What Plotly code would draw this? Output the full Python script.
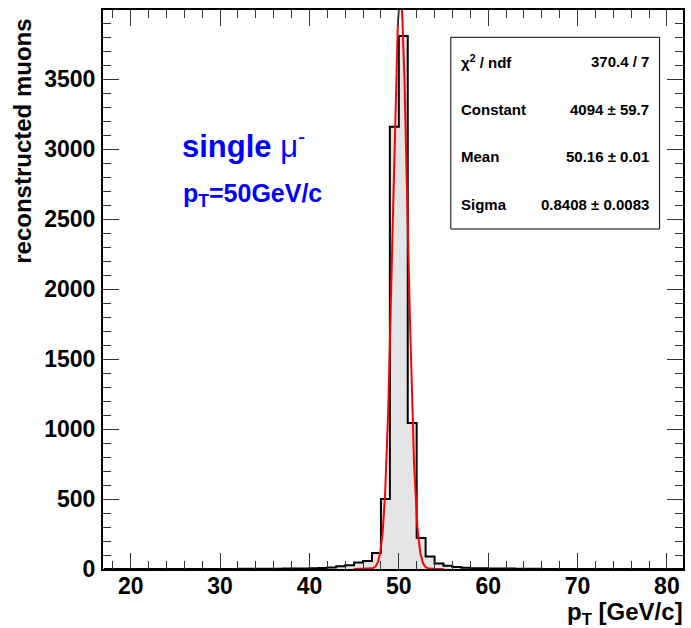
import numpy as np
import plotly.graph_objects as go

# ---- data -------------------------------------------------------------
bin_low_edges = list(range(17, 82))          # 1 GeV/c bins, 17..82
counts = [0] * 13 + [                        # 17..29
    0, 0, 1, 1, 1, 2, 2, 3, 3, 4,            # 30..39
    5, 7, 10, 19, 26, 47, 57, 115, 500, 3160,  # 40..49
    3809, 1043, 221, 90, 40, 24, 14, 9, 6, 5,  # 50..59
    4, 3, 3, 2, 1, 1,                        # 60..65
] + [0] * 16                                 # 66..81
bin_width = 1.0

fit_constant = 4094.0
fit_mean = 50.16
fit_sigma = 0.8408
fit_range = (45.0, 55.0)

stats_labels = ["χ<sup>2</sup> / ndf", "Constant", "Mean", "Sigma"]
stats_values = ["370.4 / 7", "4094 ± 59.7", "50.16 ± 0.01", "0.8408 ± 0.0083"]

x_range = [16.9, 81.8]
y_range = [0, 3995]

# ---- figure -----------------------------------------------------------
FONT = "Liberation Sans, Arial, Helvetica, sans-serif"
W, H = 691, 628
ML, MR, MT, MB = 103, 6, 10, 59
PW, PH = W - ML - MR, H - MT - MB


def px(xp):
    return (xp - ML) / PW


def py(yp):
    return (H - MB - yp) / PH


step_x = bin_low_edges + [bin_low_edges[-1] + bin_width]
step_y = counts + [counts[-1]]

fig = go.Figure()
fig.add_trace(go.Scatter(
    x=step_x, y=step_y, mode="lines", line_shape="hv",
    line=dict(color="black", width=2),
    fill="tozeroy", fillcolor="#e5e5e5",
    hoverinfo="skip", showlegend=False,
))

fx = np.linspace(fit_range[0], fit_range[1], 400)
fy = fit_constant * np.exp(-0.5 * ((fx - fit_mean) / fit_sigma) ** 2)
fig.add_trace(go.Scatter(
    x=fx, y=fy, mode="lines", line=dict(color="red", width=2),
    hoverinfo="skip", showlegend=False,
))

axis_common = dict(
    showgrid=False, zeroline=False,
    showline=True, linecolor="black", linewidth=2, mirror="allticks",
    ticks="inside", ticklen=16, tickwidth=1, tickcolor="#333333",
    tickfont=dict(family=FONT, size=23, color="black", weight="bold"),
)

fig.update_xaxes(
    range=x_range, tickmode="linear", tick0=0, dtick=10,
    ticklabelstandoff=-5,
    minor=dict(ticks="inside", ticklen=8, tickwidth=1, tickcolor="#333333",
               tick0=0, dtick=2),
    **axis_common,
)
fig.update_yaxes(
    range=y_range, tickmode="linear", tick0=0, dtick=500,
    ticklabelstandoff=1,
    minor=dict(ticks="inside", ticklen=8, tickwidth=1, tickcolor="#333333",
               tick0=0, dtick=100),
    **axis_common,
)

annotations = [
    dict(text="<b>reconstructed muons</b>", textangle=-90,
         x=px(22), y=py(17), xanchor="center", yanchor="top",
         font=dict(family=FONT, size=24, color="black")),
    dict(text="<b>p<sub>T</sub> [GeV/c]</b>",
         x=px(687), y=py(613), xanchor="right", yanchor="middle",
         font=dict(family=FONT, size=24, color="black")),
    dict(text="<b>single</b> μ<sup>-</sup>",
         x=px(180), y=py(144), xanchor="left", yanchor="middle",
         font=dict(family=FONT, size=31, color="#0000ff")),
    dict(text="<b>p<sub>T</sub>=50GeV/c</b>",
         x=px(181), y=py(195), xanchor="left", yanchor="middle",
         font=dict(family=FONT, size=25, color="#0000ff")),
]

row_y = [61.7, 109.3, 156.0, 204.3]
for lab, val, ry in zip(stats_labels, stats_values, row_y):
    annotations.append(dict(text=f"<b>{lab}</b>", x=px(460.5), y=py(ry),
                            xanchor="left", yanchor="middle",
                            font=dict(family=FONT, size=15, color="black")))
    annotations.append(dict(text=f"<b>{val}</b>", x=px(653), y=py(ry),
                            xanchor="right", yanchor="middle",
                            font=dict(family=FONT, size=15, color="black")))

for a in annotations:
    a.update(xref="paper", yref="paper", showarrow=False)

fig.update_layout(
    width=W, height=H,
    margin=dict(l=ML, r=MR, t=MT, b=MB, pad=0),
    paper_bgcolor="white", plot_bgcolor="white",
    annotations=annotations,
    shapes=[dict(type="rect", xref="paper", yref="paper",
                 x0=px(452), x1=px(661.5), y0=py(229), y1=py(37.3),
                 line=dict(color="black", width=1), fillcolor="white",
                 layer="above")],
)

fig.write_html("out.html")
